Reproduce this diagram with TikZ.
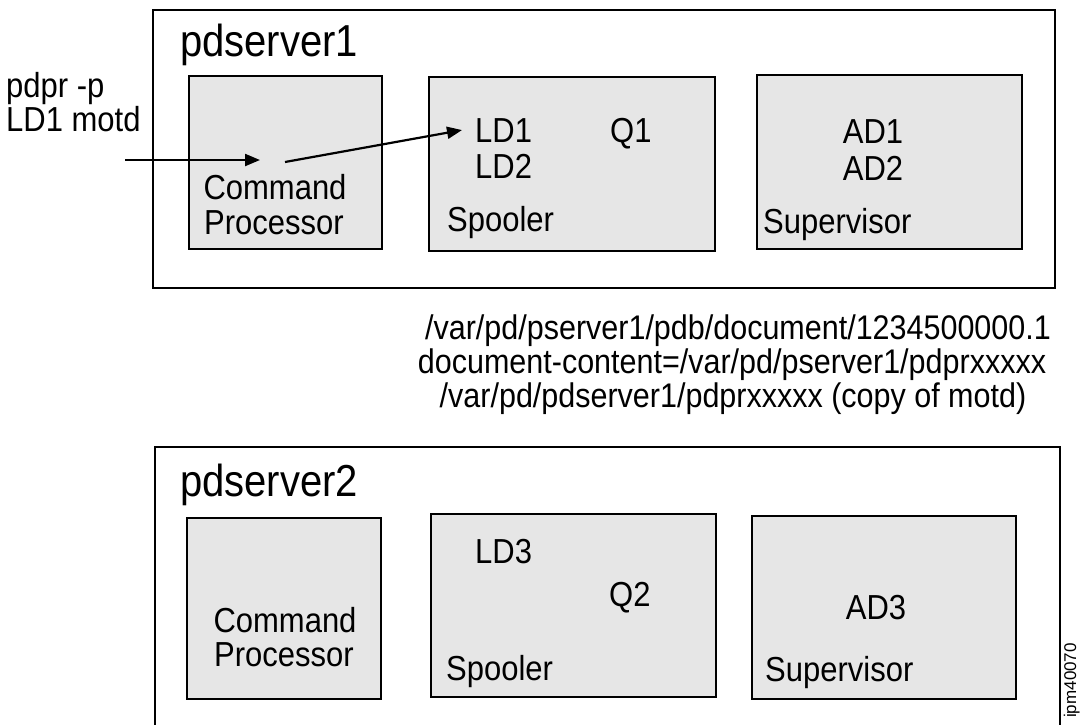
\documentclass[tikz,border=0pt]{standalone}
\usepackage{fontspec}
\usepackage{graphicx}
\setmainfont{Liberation Sans}
\usetikzlibrary{arrows.meta,fit}
\definecolor{boxgray}{RGB}{230,230,230}
\newcommand{\vst}[1]{\scalebox{1}[1.12]{#1}}
\tikzset{
  outerbox/.style={draw=black, line width=2pt, inner sep=0pt, outer sep=0pt},
  compbox/.style={draw=black, fill=boxgray, line width=2pt, inner sep=0pt, outer sep=0pt},
  titletext/.style={inner sep=0pt, font=\fontsize{40}{46}\selectfont},
  bodytext/.style={inner sep=0pt, font=\fontsize{31}{36}\selectfont},
  pathtext/.style={inner sep=0pt, font=\fontsize{30.5}{34}\selectfont},
  idtext/.style={inner sep=0pt, font=\fontsize{17}{20}\selectfont},
  arr/.style={line width=2.2pt, -{Triangle[length=15pt,width=12pt]}}
}
\begin{document}
\begin{tikzpicture}[x=1pt,y=-1pt]
\useasboundingbox (0,0) rectangle (1080,724);
\clip (0,0) rectangle (1080,724);
% server 1
\node[outerbox, fit={(153,10) (1055,288)}] (srv1) {};
\node[compbox, fit={(189,76) (382,249)}] (cp1) {};
\node[compbox, fit={(429,77) (715,251)}] (sp1) {};
\node[compbox, fit={(757,75) (1022,249)}] (sv1) {};
\node[titletext, anchor=base west] (t1) at (180,56) {\vst{pdserver1}};
\node[bodytext, anchor=base west] (cmd) at (6,97) {\vst{pdpr -p}};
\node[bodytext, anchor=base west] (cmd2) at (6,131) {\vst{LD1 motd}};
\node[bodytext, anchor=base] (cp1a) at (275,199) {\vst{Command}};
\node[bodytext, anchor=base] (cp1b) at (274,234) {\vst{Processor}};
\node[bodytext, anchor=base west] (ld1) at (475,142) {\vst{LD1}};
\node[bodytext, anchor=base west] (ld2) at (475,178) {\vst{LD2}};
\node[bodytext, anchor=base west] (q1) at (610,142) {\vst{Q1}};
\node[bodytext, anchor=base west] (sp1t) at (447,231) {\vst{Spooler}};
\node[bodytext, anchor=base] (ad1) at (873,143) {\vst{AD1}};
\node[bodytext, anchor=base] (ad2) at (873,180) {\vst{AD2}};
\node[bodytext, anchor=base west] (sv1t) at (763,233) {\vst{Supervisor}};
\coordinate (in1) at (125,160);
\coordinate (cpin) at (260,160);
\coordinate (cpout) at (285,162);
\draw[arr] (in1) -- (cpin);
\draw[arr] (cpout) -- ([xshift=-13pt]ld1.west);
% files
\node[pathtext, anchor=base] (f1) at (738,339) {\vst{/var/pd/pserver1/pdb/document/1234500000.1}};
\node[pathtext, anchor=base] (f2) at (732,373) {\vst{document-content=/var/pd/pserver1/pdprxxxxx}};
\node[pathtext, anchor=base] (f3) at (733,407) {\vst{/var/pd/pdserver1/pdprxxxxx (copy of motd)}};
% server 2
\node[outerbox, fit={(155,447) (1060,760)}] (srv2) {};
\node[compbox, fit={(187,518) (381,699)}] (cp2) {};
\node[compbox, fit={(431,514) (716,697)}] (sp2) {};
\node[compbox, fit={(752,516) (1016,699)}] (sv2) {};
\node[titletext, anchor=base west] (t2) at (180,496) {\vst{pdserver2}};
\node[bodytext, anchor=base] (cp2a) at (285,632) {\vst{Command}};
\node[bodytext, anchor=base] (cp2b) at (284,666) {\vst{Processor}};
\node[bodytext, anchor=base west] (ld3) at (475,563) {\vst{LD3}};
\node[bodytext, anchor=base west] (q2) at (609,606) {\vst{Q2}};
\node[bodytext, anchor=base west] (sp2t) at (446,680) {\vst{Spooler}};
\node[bodytext, anchor=base] (ad3) at (876,619) {\vst{AD3}};
\node[bodytext, anchor=base west] (sv2t) at (765,681) {\vst{Supervisor}};
\node[idtext, rotate=90, anchor=base west] (id) at (1076,718) {ipm40070};
\end{tikzpicture}
\end{document}
